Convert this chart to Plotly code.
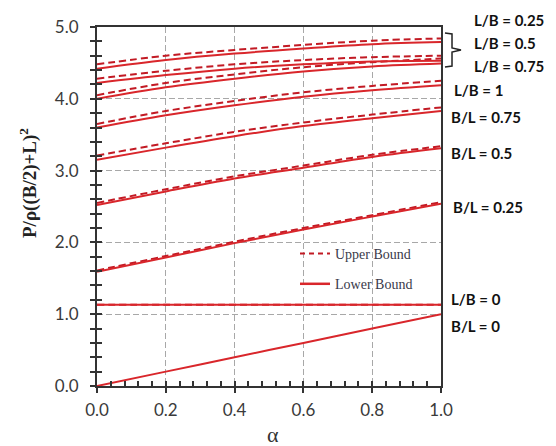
import plotly.graph_objects as go

alpha = [0.0, 0.2, 0.4, 0.6, 0.8, 1.0]

# Lower bound (solid)
lower = {
    "L/B = 0.25": [4.42, 4.54, 4.63, 4.70, 4.76, 4.79],
    "L/B = 0.5":  [4.22, 4.33, 4.42, 4.48, 4.52, 4.53],
    "L/B = 0.75": [4.00, 4.16, 4.28, 4.38, 4.45, 4.49],
    "L/B = 1":    [3.60, 3.77, 3.91, 4.03, 4.12, 4.19],
    "B/L = 0.75": [3.15, 3.32, 3.48, 3.62, 3.73, 3.83],
    "B/L = 0.5":  [2.52, 2.71, 2.89, 3.04, 3.19, 3.31],
    "B/L = 0.25": [1.59, 1.79, 1.99, 2.18, 2.36, 2.54],
    "L/B = 0":    [1.13, 1.13, 1.13, 1.13, 1.13, 1.13],
    "B/L = 0":    [0.00, 0.20, 0.40, 0.60, 0.80, 1.00],
}
# Upper bound (dashed)
upper = {
    "L/B = 0.25": [4.48, 4.60, 4.68, 4.75, 4.81, 4.84],
    "L/B = 0.5":  [4.28, 4.39, 4.48, 4.54, 4.58, 4.60],
    "L/B = 0.75": [4.05, 4.22, 4.34, 4.44, 4.51, 4.56],
    "L/B = 1":    [3.65, 3.83, 3.97, 4.09, 4.18, 4.25],
    "B/L = 0.75": [3.21, 3.38, 3.54, 3.67, 3.78, 3.88],
    "B/L = 0.5":  [2.55, 2.74, 2.92, 3.07, 3.22, 3.34],
    "B/L = 0.25": [1.61, 1.81, 2.01, 2.20, 2.38, 2.56],
    "L/B = 0":    [1.13, 1.13, 1.13, 1.13, 1.13, 1.13],
}

x_ticks = [0.0, 0.2, 0.4, 0.6, 0.8, 1.0]
y_ticks = [0.0, 1.0, 2.0, 3.0, 4.0, 5.0]

label_pos = {
    "L/B = 0.25": (472, 20),
    "L/B = 0.5": (472, 43),
    "L/B = 0.75": (472, 66),
    "L/B = 1": (452, 90),
    "B/L = 0.75": (449, 117),
    "B/L = 0.5": (449, 153),
    "B/L = 0.25": (451, 207),
    "L/B = 0": (449, 299),
    "B/L = 0": (449, 326),
}

W, H = 556, 446
L, R, T, B = 97, 441, 27, 386
def px(x):
    return (x - L) / (R - L)
def py(y):
    return (B - y) / (B - T)

SOLID = "#d9262b"
DASH = "#c21a24"

fig = go.Figure()
for name, vals in upper.items():
    fig.add_trace(go.Scatter(x=alpha, y=vals, mode="lines", line_shape="spline",
                             line=dict(color=DASH, width=2, dash="7px,4px"),
                             showlegend=False, hoverinfo="skip"))
for name, vals in lower.items():
    fig.add_trace(go.Scatter(x=alpha, y=vals, mode="lines", line_shape="spline",
                             line=dict(color=SOLID, width=2),
                             showlegend=False, hoverinfo="skip"))

# legend entries
fig.add_trace(go.Scatter(x=[None], y=[None], mode="lines", name="Upper Bound",
                         legendgroup="u",
                         line=dict(color=DASH, width=2, dash="5px,4px")))
fig.add_trace(go.Scatter(x=[None], y=[None], mode="lines", name="Lower Bound",
                         legendgroup="l",
                         line=dict(color=SOLID, width=2.5)))
# overlay axes for inside ticks
fig.add_trace(go.Scatter(x=[None], y=[None], xaxis="x2", yaxis="y2", showlegend=False))

axis_common = dict(showline=True, linecolor="#333333", linewidth=2, mirror=True,
                   zeroline=False)
fig.update_layout(
    width=W, height=H,
    margin=dict(l=L, r=W - R, t=T, b=H - B),
    paper_bgcolor="white", plot_bgcolor="white",
    font=dict(family="Lato", size=17, color="#3a3a3a"),
    xaxis=dict(range=[0, 1], tickvals=x_ticks, ticktext=[f"{v:.1f}" for v in x_ticks],
               ticks="outside", ticklen=5, tickwidth=2, tickcolor="#333333",
               ticklabelstandoff=3,
               showgrid=True, gridcolor="#a8a8a8", griddash="6px,3px", gridwidth=1,
               minor=dict(dtick=0.04, ticks="outside", ticklen=0, showgrid=False),
               **axis_common),
    yaxis=dict(range=[0, 5], tickvals=y_ticks, ticktext=[f"{v:.1f}" for v in y_ticks],
               ticks="outside", ticklen=5, tickwidth=2, tickcolor="#333333",
               ticklabelstandoff=8,
               showgrid=True, gridcolor="#a8a8a8", griddash="6px,3px", gridwidth=1,
               minor=dict(dtick=0.2, ticks="outside", ticklen=5, tickwidth=1.5,
                          tickcolor="#333333", showgrid=False),
               **axis_common),
    xaxis2=dict(range=[0, 1], overlaying="x", showticklabels=False, showgrid=False,
                zeroline=False, tickvals=x_ticks, ticks="inside", ticklen=5, tickwidth=2,
                tickcolor="#333333", side="bottom",
                minor=dict(dtick=0.04, ticks="inside", ticklen=5, tickwidth=1.5,
                           tickcolor="#333333")),
    yaxis2=dict(range=[0, 5], overlaying="y", showticklabels=False, showgrid=False,
                zeroline=False, tickvals=y_ticks, ticks="inside", ticklen=5, tickwidth=2,
                tickcolor="#333333", side="left",
                minor=dict(dtick=0.2, ticks="inside", ticklen=5, tickwidth=1.5,
                           tickcolor="#333333")),
    legend=dict(x=px(295), y=py(238), xanchor="left", yanchor="top",
                bgcolor="rgba(0,0,0,0)", tracegroupgap=9, itemwidth=30,
                font=dict(family="Liberation Serif", size=14, color="#3a3a4a")),
    showlegend=True,
)

annotations = []
for name, (lx, ly) in label_pos.items():
    annotations.append(dict(x=px(lx), y=py(ly), xref="paper", yref="paper",
                            text=f"<b>{name}</b>", showarrow=False, xanchor="left",
                            yanchor="middle",
                            font=dict(family="Lato", size=15, color="#111111")))
annotations.append(dict(x=px(28), y=py(183), xref="paper", yref="paper",
                        text="<b>P/ρ((B/2)+L)<sup>2</sup></b>", textangle=-90,
                        showarrow=False, xanchor="center", yanchor="middle",
                        font=dict(family="Liberation Serif", size=19, color="#222222")))
annotations.append(dict(x=px(273), y=py(434), xref="paper", yref="paper",
                        text="α", showarrow=False, xanchor="center", yanchor="middle",
                        font=dict(family="Liberation Serif", size=22, color="#333333")))
fig.update_layout(annotations=annotations)

# brace grouping the top three labels
pts = [(445, 33), (452, 34), (452, 48), (461, 50), (452, 52), (452, 66), (445, 67)]
path = "M " + " L ".join(f"{px(a):.4f},{py(b):.4f}" for a, b in pts)
fig.add_shape(type="path", path=path, xref="paper", yref="paper",
              line=dict(color="#222222", width=1.5))

fig.write_html("out.html")
